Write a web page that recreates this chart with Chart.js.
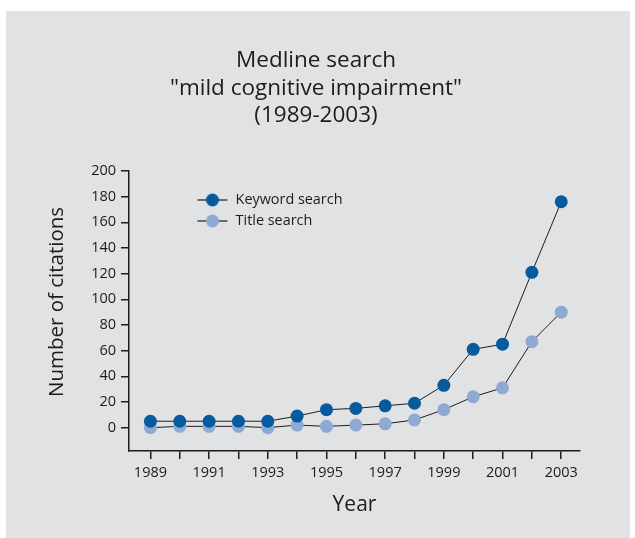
<!DOCTYPE html>
<html>
<head>
<meta charset="utf-8">
<script src="https://cdn.jsdelivr.net/npm/chart.js@4/dist/chart.umd.min.js"></script>
<style>
    html, body { margin: 0; padding: 0; background: #fff; }
    #panel { position: absolute; left: 6px; top: 11px; width: 624px; height: 527px; background: #e1e2e4; }
    #wrap { position: absolute; left: 0; top: 0; width: 635px; height: 538px; }
</style>
</head>
<body>
<div id="panel"></div>
<div id="wrap"><canvas id="chart" width="635" height="538"></canvas></div>
<script>
const years = [1989, 1990, 1991, 1992, 1993, 1994, 1995, 1996, 1997, 1998, 1999, 2000, 2001, 2002, 2003];
const keywordSearch = [5, 5, 5, 5, 5, 9, 14, 15, 17, 19, 33, 61, 65, 121, 176];
const titleSearch = [0, 1, 1, 1, 0, 2, 1, 2, 3, 6, 14, 24, 31, 67, 90];
const yTicks = [0, 20, 40, 60, 80, 100, 120, 140, 160, 180, 200];

const FONT = '"Open Sans", "Noto Sans", sans-serif';
const INK = '#1e1b1c';
const DARK = '#065a9e';
const LIGHT = '#8fa9d5';

// legend symbol: short line with a dot on it
function legendIcon(color) {
    const c = document.createElement('canvas');
    c.width = 32;
    c.height = 14;
    const g = c.getContext('2d');
    g.strokeStyle = INK;
    g.lineWidth = 1.2;
    g.beginPath();
    g.moveTo(1, 7);
    g.lineTo(31, 7);
    g.stroke();
    g.fillStyle = color;
    g.beginPath();
    g.arc(16, 7, 6.5, 0, Math.PI * 2);
    g.fill();
    return c;
}

const layoutFix = {
    id: 'layoutFix',
    afterLayout(chart) {
        // move legend into the upper left part of the plot
        const lg = chart.legend;
        const w = lg.right - lg.left, h = lg.bottom - lg.top;
        lg.left = 189.8; lg.top = 186.2;
        lg.right = lg.left + w; lg.bottom = lg.top + h;
        // y title sits left of the padded area and a bit above centre
        const ys = chart.scales.y;
        if (!ys._titleWrapped) {
            const orig = ys.drawTitle.bind(ys);
            ys.drawTitle = function () {
                this.ctx.save();
                this.ctx.translate(-7.3, -9);
                orig();
                this.ctx.restore();
            };
            ys._titleWrapped = true;
        }
    }
};

const ctx = document.getElementById('chart').getContext('2d');
new Chart(ctx, {
    type: 'line',
    data: {
        datasets: [{
            label: 'Keyword search',
            data: years.map((y, i) => ({ x: y, y: keywordSearch[i] })),
            borderColor: INK,
            borderWidth: 1,
            pointRadius: 6.5,
            pointBackgroundColor: DARK,
            pointBorderColor: DARK,
            pointBorderWidth: 0,
            tension: 0
        }, {
            label: 'Title search',
            data: years.map((y, i) => ({ x: y, y: titleSearch[i] })),
            borderColor: INK,
            borderWidth: 1,
            pointRadius: 6.5,
            pointBackgroundColor: LIGHT,
            pointBorderColor: LIGHT,
            pointBorderWidth: 0,
            tension: 0
        }]
    },
    options: {
        responsive: false,
        animation: false,
        layout: { padding: { left: 52, right: 55, top: 0, bottom: 0 } },
        scales: {
            x: {
                type: 'linear',
                min: 1988.27,
                max: 2003.64,
                afterBuildTicks: s => { s.ticks = years.map(v => ({ value: v })); },
                afterFit: s => { s.height = 87; },
                grid: { drawOnChartArea: false, drawTicks: true, tickLength: 8, color: INK, lineWidth: 1.5 },
                border: { display: true, color: INK, width: 1.5 },
                ticks: {
                    autoSkip: false,
                    maxRotation: 0,
                    padding: 5,
                    color: INK,
                    font: { family: FONT, size: 14.5 },
                    callback: v => (v % 2 === 1 ? String(v) : '')
                },
                title: {
                    display: true,
                    text: 'Year',
                    color: INK,
                    font: { family: FONT, size: 21 },
                    padding: { top: 0, bottom: 20 }
                }
            },
            y: {
                min: -18.2,
                max: 200,
                afterBuildTicks: s => { s.ticks = yTicks.map(v => ({ value: v })); },
                afterFit: s => { s.width = 77; },
                grid: { drawOnChartArea: false, drawTicks: true, tickLength: 8, color: INK, lineWidth: 1.5 },
                border: { display: true, color: INK, width: 1.5 },
                ticks: {
                    padding: 5,
                    color: INK,
                    font: { family: FONT, size: 14.5 },
                    callback: v => String(v)
                },
                title: {
                    display: true,
                    text: 'Number of citations',
                    color: INK,
                    font: { family: FONT, size: 20.5 },
                    padding: { top: 0, bottom: 0 }
                }
            }
        },
        plugins: {
            title: {
                display: true,
                text: ['Medline search', '"mild cognitive impairment"', '(1989-2003)'],
                color: INK,
                font: { family: FONT, size: 22.5, weight: 'normal', lineHeight: 1.22 },
                padding: { top: 47.3, bottom: 41.3 }
            },
            legend: {
                position: 'chartArea',
                align: 'start',
                labels: {
                    usePointStyle: true,
                    pointStyleWidth: 32,
                    padding: 6.6,
                    color: INK,
                    font: { family: FONT, size: 14.4 },
                    generateLabels: chart => Chart.defaults.plugins.legend.labels.generateLabels(chart).map(item => {
                        item.pointStyle = legendIcon(item.datasetIndex === 0 ? DARK : LIGHT);
                        return item;
                    })
                }
            },
            tooltip: { enabled: false }
        }
    },
    plugins: [layoutFix]
});
</script>
</body>
</html>
